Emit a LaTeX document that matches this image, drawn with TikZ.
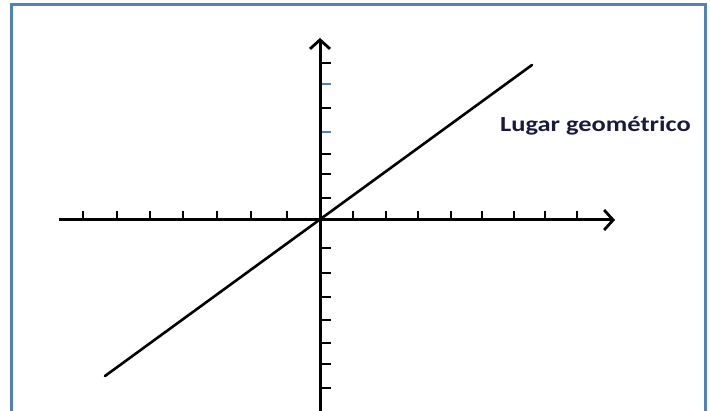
\documentclass[tikz,border=0pt]{standalone}
\usepackage{fontspec}
\setmainfont{Carlito}
\usetikzlibrary{arrows.meta}
\definecolor{frameblue}{HTML}{4F81BD}
\definecolor{labelnavy}{HTML}{1A1A40}
\begin{document}
\begin{tikzpicture}[x=1pt,y=-1pt,
  axis/.style={line width=3pt,-{Straight Barb[length=9pt,width=20pt,line width=2.8pt]}},
  tick/.style={line width=1.8pt},
  bluetick/.style={line width=1.4pt,frameblue},
  locus/.style={line width=2.6pt,line cap=round}]
\useasboundingbox (0,0) rectangle (710,411);
\begin{scope}
\clip (0,0) rectangle (710,411);
\draw[frameblue,line width=3pt] (11,5) rectangle (705,430);
\end{scope}
\coordinate (O) at (320,220);
\coordinate (xl) at (59,220);
\coordinate (xr) at (615,220);
\coordinate (yt) at (320,38);
\coordinate (yb) at (320,420);
\coordinate (la) at (105,376);
\coordinate (lb) at (532,65);
% ticks on x axis
\foreach \x in {83,117,150,183,217,251,287,353,386,418,451,482,514,545,577}
  \draw[tick] (\x,220) -- (\x,211);
% ticks on y axis
\foreach \y in {63,108,154,174,198,248,273,297,320,343,364,388}
  \draw[tick] (320,\y) -- (331,\y);
\foreach \y in {84,132}
  \draw[bluetick] (321,\y) -- (331,\y);
\draw[axis] (xl) -- (xr);
\draw[axis] (yb) -- (yt);
\draw[locus] (la) -- (lb);
\node[anchor=base west,inner sep=0pt,text=labelnavy,font=\fontsize{21.5}{23}\selectfont\bfseries] (lbl) at (500,132) {\scalebox{1.23}[1]{Lugar geométrico}};
\end{tikzpicture}
\end{document}
